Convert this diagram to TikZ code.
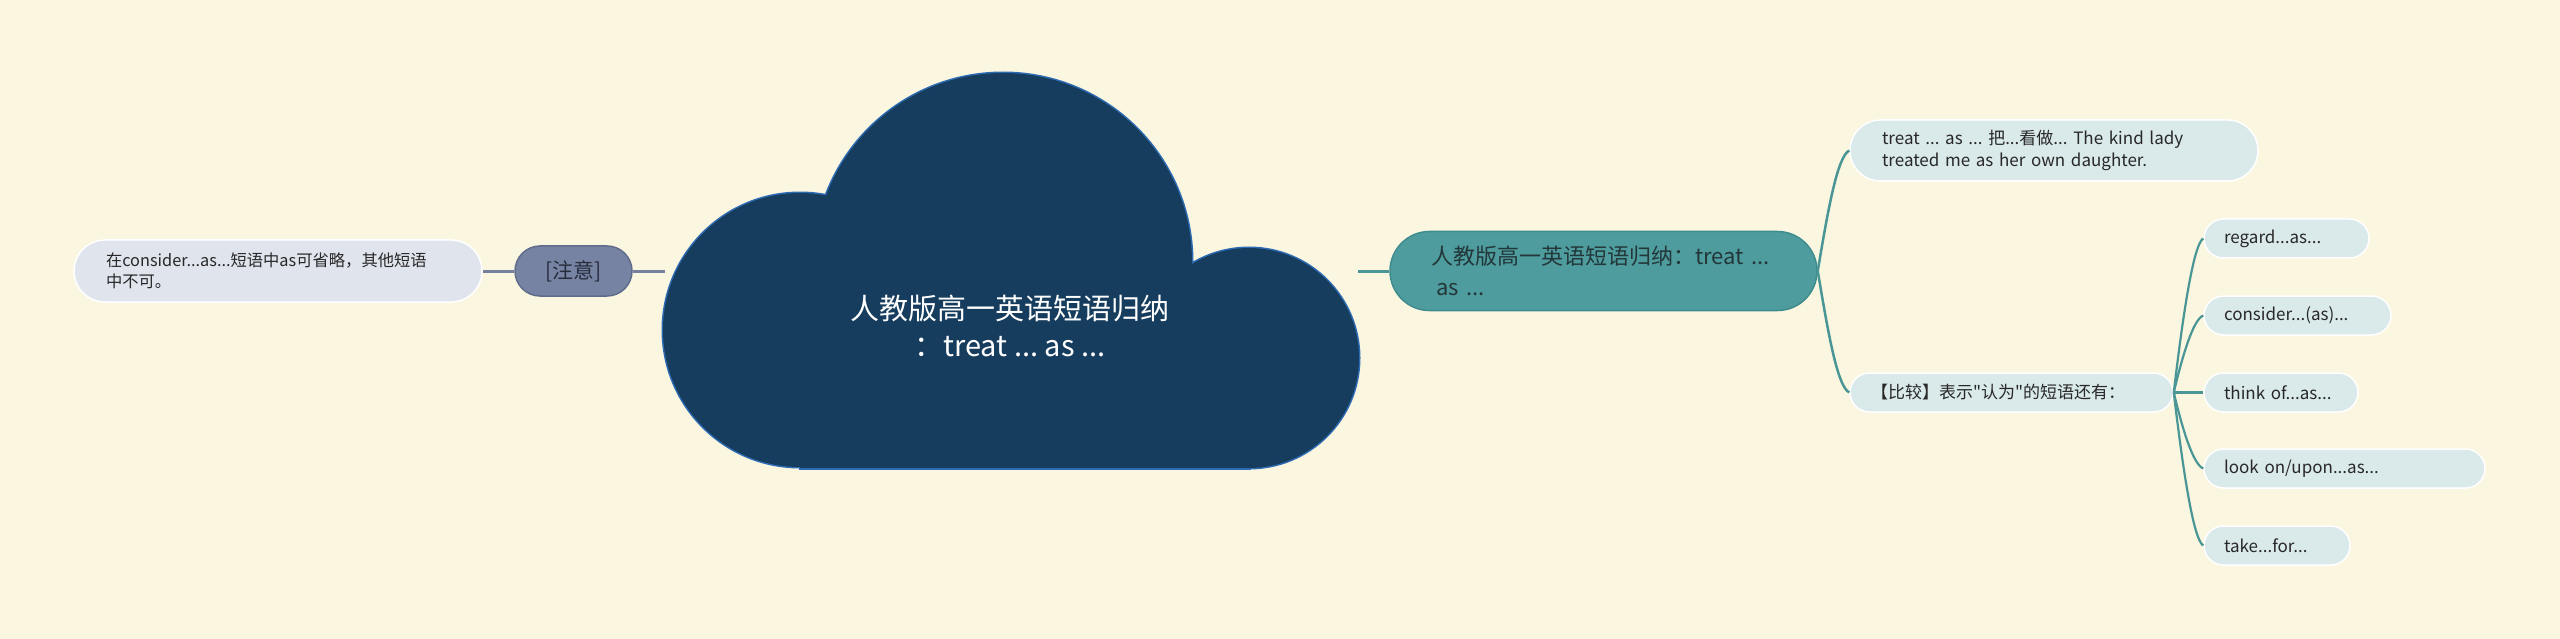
\documentclass[tikz,border=0pt]{standalone}
\usepackage{fontspec}
\setmainfont{Noto Sans CJK SC}[Ligatures=TeXOff]
\definecolor{bgc}{RGB}{251,246,224}
\definecolor{cloudfill}{RGB}{23,61,94}
\definecolor{cloudedge}{RGB}{45,108,180}
\definecolor{mainfill}{RGB}{78,156,157}
\definecolor{mainedge}{RGB}{62,140,142}
\definecolor{maintext}{RGB}{35,55,58}
\definecolor{leaffill}{RGB}{218,233,234}
\definecolor{leaftext}{RGB}{40,40,40}
\definecolor{notefill}{RGB}{224,228,237}
\definecolor{tagfill}{RGB}{118,131,163}
\definecolor{tagedge}{RGB}{95,108,140}
\definecolor{tagtext}{RGB}{40,45,60}
\definecolor{rline}{RGB}{74,150,150}
\definecolor{lline}{RGB}{117,127,158}
\tikzset{
  pillbox/.style={rectangle, inner ysep=0pt, align=left},
  leafbox/.style={pillbox, fill=leaffill, draw=white, line width=1.5pt, text=leaftext,
    font=\fontsize{17}{22}\selectfont, minimum height=39pt, rounded corners=19.5pt, inner xsep=20pt},
  rconn/.style={draw=rline, line width=2.2pt},
  lconn/.style={draw=lline, line width=3pt}
}
\begin{document}
\frenchspacing
\begin{tikzpicture}[x=1pt,y=-1pt]
\fill[bgc] (0,0) rectangle (2560,639);
\useasboundingbox (0,0) rectangle (2560,639);
% cloud
\draw[cloudedge, line width=3pt] (800,330) circle[radius=137pt];
\draw[cloudedge, line width=3pt] (1003,262) circle[radius=189pt];
\draw[cloudedge, line width=3pt] (1249,358) circle[radius=110pt];
\draw[cloudedge, line width=3pt] (800,280) rectangle (1249,468);
\fill[cloudfill] (800,330) circle[radius=137pt];
\fill[cloudfill] (1003,262) circle[radius=189pt];
\fill[cloudfill] (1249,358) circle[radius=110pt];
\fill[cloudfill] (800,280) rectangle (1249,468);
\node[text=white, align=center, font=\fontsize{29}{37}\selectfont] (root) at (1010,326)
  {人教版高一英语短语归纳\\：treat ... as ...};
\coordinate (cloudW) at (665,271);
\coordinate (cloudE) at (1358,271);
% left side
\node[pillbox, fill=tagfill, draw=tagedge, line width=1.5pt, text=tagtext, align=center,
  font=\fontsize{21}{26}\selectfont, minimum width=117pt, minimum height=50pt,
  rounded corners=25pt] (tag) at (573.5,271) {[注意]};
\node[pillbox, fill=notefill, draw=white, line width=1.5pt, text=leaftext,
  font=\fontsize{16.3}{21.5}\selectfont, inner xsep=32pt, text width=344pt,
  minimum height=62pt, rounded corners=31pt] (note) at (278,271)
  {在consider...as...短语中as可省略，其他短语\\中不可。};
\draw[lconn] (note.east) -- (tag.west);
\draw[lconn] (tag.east) -- (cloudW);
% right side
\node[pillbox, fill=mainfill, draw=mainedge, line width=1.5pt, text=maintext,
  font=\fontsize{22}{31}\selectfont, inner xsep=41pt, text width=345pt,
  minimum height=79pt, rounded corners=39.5pt] (main) at (1603.5,271)
  {人教版高一英语短语归纳：treat ...\\\hspace*{5pt}as ...};
\draw[rconn, line width=3pt] (cloudE) -- (main.west);
\node[leafbox, inner xsep=32pt, text width=344pt, minimum height=61pt, rounded corners=30.5pt]
  (treat) at (2054,150.5) {treat ... as ... 把...看做... The kind lady\\treated me as her own daughter.};
\node[leafbox, inner xsep=21pt, text width=281pt] (cmp) at (2011.5,392.5) {【比较】表示"认为"的短语还有：};
\node[leafbox, text width=125pt] (c1) at (2286.5,238.5) {regard...as...};
\node[leafbox, text width=147pt] (c2) at (2297.5,315.5) {consider...(as)...};
\node[leafbox, text width=114pt] (c3) at (2281,392.5) {think of...as...};
\node[leafbox, text width=241pt] (c4) at (2344.5,468.5) {look on/upon...as...};
\node[leafbox, text width=106pt] (c5) at (2277,545.5) {take...for...};
\draw[rconn, line width=2.5pt] (main.east) .. controls +(10,-60) and +(-12,6) .. (treat.west);
\draw[rconn, line width=2.5pt] (main.east) .. controls +(10,60) and +(-12,-6) .. (cmp.west);
\draw[rconn] (cmp.east) .. controls +(9,-76) and +(-10,6) .. (c1.west);
\draw[rconn] (cmp.east) .. controls +(9,-38) and +(-10,4) .. (c2.west);
\draw[rconn] (cmp.east) -- (c3.west);
\draw[rconn] (cmp.east) .. controls +(9,38) and +(-10,-4) .. (c4.west);
\draw[rconn] (cmp.east) .. controls +(9,76) and +(-10,-6) .. (c5.west);
\end{tikzpicture}
\end{document}
